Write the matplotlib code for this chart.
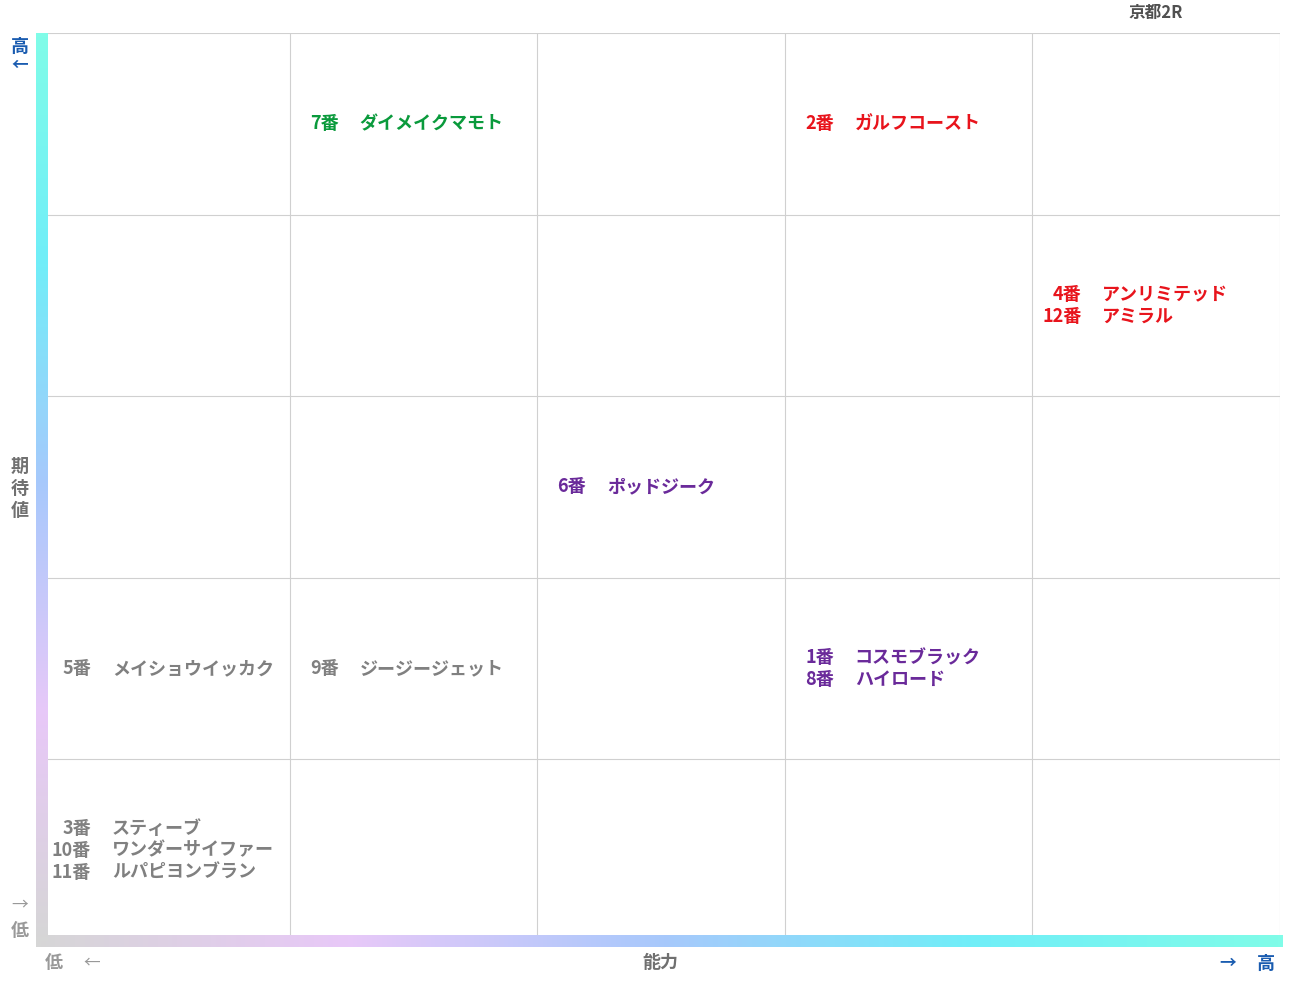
import matplotlib
matplotlib.use("Agg")
import matplotlib.pyplot as plt
import numpy as np
from matplotlib.colors import LinearSegmentedColormap

plt.rcParams['font.family'] = ['Noto Sans CJK JP', 'DejaVu Sans']

title = "京都2R"
numbers = ["7番", "2番", "4番", "12番", "6番", "5番", "9番", "1番", "8番", "3番", "10番", "11番"]
names = ["ダイメイクマモト", "ガルフコースト", "アンリミテッド", "アミラル", "ポッドジーク",
         "メイショウイッカク", "ジージージェット", "コスモブラック", "ハイロード",
         "スティーブ", "ワンダーサイファー", "ルパピヨンブラン"]
cols = [1, 3, 4, 4, 2, 0, 1, 3, 3, 0, 0, 0]   # 能力 column (0=low)
rows = [4, 4, 3, 3, 2, 1, 1, 1, 1, 0, 0, 0]   # 期待値 row (0=low)
colors = ["#0a9a3c", "#e8141c", "#e8141c", "#e8141c", "#6a2a9a", "#808080", "#808080",
          "#6a2a9a", "#6a2a9a", "#808080", "#808080", "#808080"]

W, H = 1291, 983
fig = plt.figure(figsize=(W/100, H/100), dpi=100)
L, R, T, B = 42, 1280, 33, 941
ax = fig.add_axes([L/W, 1-B/H, (R-L)/W, (B-T)/H])
ax.set_xlim(0, 5); ax.set_ylim(0, 5)
for v in range(1, 6):
    ax.axvline(v, color="#d0d0d0", lw=0.8)
    ax.axhline(v, color="#d0d0d0", lw=0.8)
ax.set_xticks([]); ax.set_yticks([])
for s in ax.spines.values():
    s.set_visible(False)

from collections import defaultdict
cells = defaultdict(list)
for i in range(len(numbers)):
    cells[(cols[i], rows[i])].append(i)
px_per_unit_y = (B - T) / 5
line = 22 / px_per_unit_y
px_per_unit_x = (R - L) / 5
for (c, r), idx in cells.items():
    n = len(idx)
    for k, i in enumerate(idx):
        y = r + 0.5 + (n - 1) / 2 * line - k * line
        ax.text(c + 49 / px_per_unit_x, y, numbers[i], ha="right", va="center",
                color=colors[i], fontsize=13, fontweight="bold")
        ax.text(c + 70 / px_per_unit_x, y, names[i], ha="left", va="center",
                color=colors[i], fontsize=13, fontweight="bold")

ov = fig.add_axes([0, 0, 1, 1], zorder=3)
ov.patch.set_alpha(0)
ov.set_xlim(0, W); ov.set_ylim(H, 0); ov.axis("off")
cmap = LinearSegmentedColormap.from_list("g", ["#d6d6d6", "#e8c8f8", "#a8c8fc", "#70eef8", "#80fce8"])
grad = np.linspace(0, 1, 256)
ov.imshow(grad[None, :], cmap=cmap, extent=[36, 1283, 947, 935], aspect="auto")
ov.imshow(grad[::-1][:, None], cmap=cmap, extent=[36, 48, 941, 33], aspect="auto")

fig.text(1156/W, 1-13/H, title, ha="center", va="center", fontsize=12, fontweight="bold", color="#505050")
fig.text(20/W, 1-46/H, "高", ha="center", va="center", fontsize=13, fontweight="bold", color="#1a5cb0")
fig.text(20/W, 1-65/H, "←", ha="center", va="center", fontsize=12, fontweight="bold", color="#1a5cb0")
fig.text(20/W, 1-905/H, "→", ha="center", va="center", fontsize=12, color="#999999")
fig.text(20/W, 1-930/H, "低", ha="center", va="center", fontsize=13, fontweight="bold", color="#999999")
for k, ch in enumerate("期待値"):
    fig.text(20/W, 1-(466+22*k)/H, ch, ha="center", va="center", fontsize=13, fontweight="bold", color="#707070")
fig.text(54/W, 1-963/H, "低", ha="center", va="center", fontsize=13, fontweight="bold", color="#999999")
fig.text(92/W, 1-963/H, "←", ha="center", va="center", fontsize=12, color="#999999")
fig.text(660/W, 1-963/H, "能力", ha="center", va="center", fontsize=13, fontweight="bold", color="#707070")
fig.text(1228/W, 1-963/H, "→", ha="center", va="center", fontsize=12, fontweight="bold", color="#1a5cb0")
fig.text(1266/W, 1-963/H, "高", ha="center", va="center", fontsize=13, fontweight="bold", color="#1a5cb0")

fig.savefig("out.png", dpi=100)
